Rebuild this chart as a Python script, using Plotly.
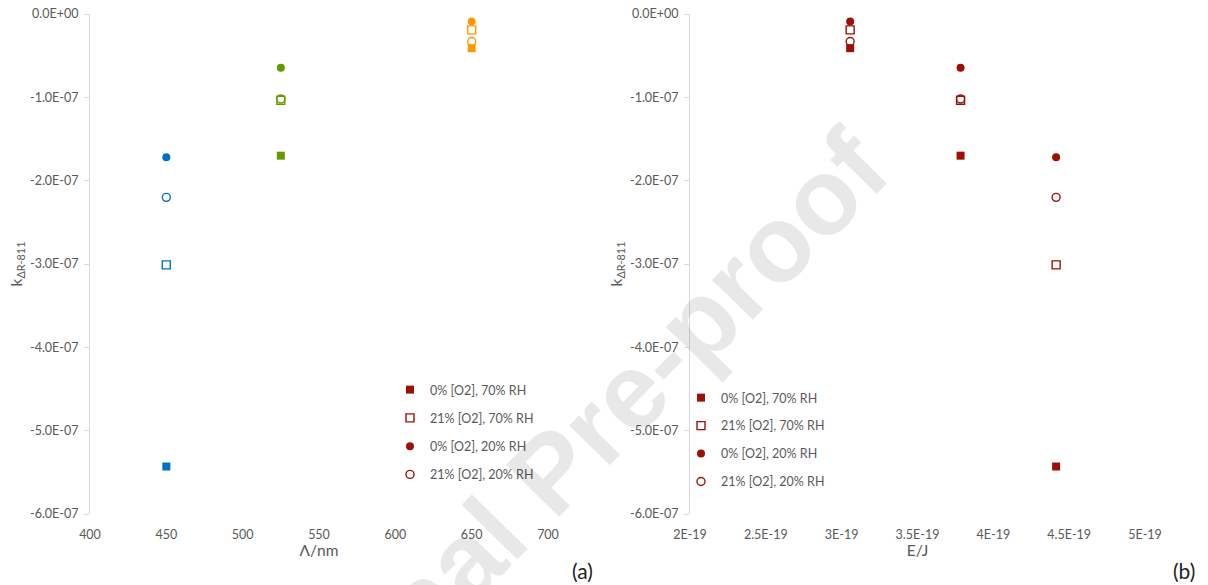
import plotly.graph_objects as go

# ---------------- data ----------------
wavelength_nm = [450, 525, 650]
energy_J = [4.414e-19, 3.784e-19, 3.056e-19]

k_0O2_70RH = [-5.43e-7, -1.70e-7, -0.41e-7]
k_21O2_70RH = [-3.01e-7, -1.035e-7, -0.19e-7]
k_0O2_20RH = [-1.72e-7, -0.645e-7, -0.09e-7]
k_21O2_20RH = [-2.20e-7, -1.02e-7, -0.33e-7]

series_names = ["0% [O2], 70% RH", "21% [O2], 70% RH",
                "0% [O2], 20% RH", "21% [O2], 20% RH"]
series_values = [k_0O2_70RH, k_21O2_70RH, k_0O2_20RH, k_21O2_20RH]
series_symbols = ["square", "square-open", "circle", "circle-open"]

wavelength_colors = ["#0070C0", "#669900", "#FF9900"]
dark_red = "#9C1006"

y_tickvals = [0, -1e-7, -2e-7, -3e-7, -4e-7, -5e-7, -6e-7]
y_ticktext = ["0.0E+00", "-1.0E-07", "-2.0E-07", "-3.0E-07",
              "-4.0E-07", "-5.0E-07", "-6.0E-07"]
xa_tickvals = [400, 450, 500, 550, 600, 650, 700]
xb_tickvals = [2e-19, 2.5e-19, 3e-19, 3.5e-19, 4e-19, 4.5e-19, 5e-19]
xb_ticktext = ["2E-19", "2.5E-19", "3E-19", "3.5E-19", "4E-19", "4.5E-19", "5E-19"]

# ---------------- figure ----------------
W, H = 1208, 585
FONT = "Lato, 'Open Sans', sans-serif"
GREY_TXT = "#595959"
AXIS_C = "#D9D9D9"

fig = go.Figure()

for name, vals, sym in zip(series_names, series_values, series_symbols):
    is_open = sym.endswith("open")
    # panel (a): coloured by wavelength
    fig.add_trace(go.Scatter(
        x=wavelength_nm, y=vals, mode="markers", name=name, showlegend=False,
        marker=dict(symbol=sym, size=8, color=wavelength_colors,
                    line=dict(width=1.4 if is_open else 0, color=wavelength_colors)),
        xaxis="x", yaxis="y"))
    # panel (b): dark red
    fig.add_trace(go.Scatter(
        x=energy_J, y=vals, mode="markers", name=name, showlegend=False,
        marker=dict(symbol=sym, size=8, color=dark_red,
                    line=dict(width=1.4 if is_open else 0, color=dark_red)),
        xaxis="x2", yaxis="y2"))

# legend entries (dark red markers in both panels)
for i, (name, sym) in enumerate(zip(series_names, series_symbols)):
    is_open = sym.endswith("open")
    for lg, xa, ya in (("legend", "x", "y"), ("legend2", "x2", "y2")):
        fig.add_trace(go.Scatter(
            x=[None], y=[None], mode="markers", name=name, legend=lg,
            legendgroup=f"{lg}_{i}",
            marker=dict(symbol=sym, size=8, color=dark_red,
                        line=dict(width=1.4 if is_open else 0, color=dark_red)),
            xaxis=xa, yaxis=ya))

xa_dom = [90 / W, 548 / W]
xb_dom = [690 / W, 1145 / W]
y_dom = [71 / H, 571 / H]

tickfont = dict(family=FONT, size=12.5, color=GREY_TXT)
titlefont = dict(family=FONT, size=15.5, color=GREY_TXT)

def yaxis_cfg(anchor):
    return dict(domain=y_dom, anchor=anchor, range=[-6e-7, 0], automargin=False,
                tickvals=y_tickvals, ticktext=y_ticktext, tickfont=tickfont,
                showline=True, linecolor=AXIS_C, linewidth=1,
                ticks="outside", ticklen=5, tickcolor=AXIS_C,
                ticklabelstandoff=3,
                showgrid=False, zeroline=False,
                title=dict(text="k<sub>ΔR-811</sub>", font=titlefont, standoff=3))

def xaxis_cfg(dom, anchor, rng, tv, tt, title):
    return dict(domain=dom, anchor=anchor, range=rng, automargin=False,
                tickvals=tv, ticktext=tt, tickfont=tickfont,
                showline=False, ticks="", ticklabelstandoff=11,
                showgrid=False, zeroline=False,
                title=dict(text=title, font=titlefont, standoff=0))

def topaxis_cfg(over, anchor, rng, tv):
    return dict(overlaying=over, side="top", anchor=anchor, range=rng,
                automargin=False, tickvals=tv, showticklabels=False,
                showline=True, linecolor=AXIS_C, ticks="outside", ticklen=4,
                tickcolor=AXIS_C, showgrid=False, zeroline=False)

fig.update_layout(
    width=W, height=H, margin=dict(l=0, r=0, t=0, b=0),
    paper_bgcolor="white", plot_bgcolor="white",
    xaxis=xaxis_cfg(xa_dom, "y", [400, 700], xa_tickvals,
                    [str(v) for v in xa_tickvals], "Λ/nm"),
    xaxis3=topaxis_cfg("x", "y", [400, 700], xa_tickvals),
    xaxis2=xaxis_cfg(xb_dom, "y2", [2e-19, 5e-19], xb_tickvals, xb_ticktext, "E/J"),
    xaxis4=topaxis_cfg("x2", "y2", [2e-19, 5e-19], xb_tickvals),
    yaxis=yaxis_cfg("x"),
    yaxis2=yaxis_cfg("x2"),
    legend=dict(x=390 / W, y=1 - 375 / H, xanchor="left", yanchor="top",
                bgcolor="rgba(0,0,0,0)", tracegroupgap=9, itemwidth=30,
                font=dict(family=FONT, size=12.5, color=GREY_TXT)),
    legend2=dict(x=681 / W, y=1 - 383 / H, xanchor="left", yanchor="top",
                 bgcolor="rgba(0,0,0,0)", tracegroupgap=8.7, itemwidth=30,
                 font=dict(family=FONT, size=12.5, color=GREY_TXT)),
    annotations=[
        dict(text="(a)", x=582 / W, y=1 - 570 / H, xref="paper", yref="paper",
             xanchor="center", yanchor="middle",
             showarrow=False, font=dict(family=FONT, size=21, color="#222222")),
        dict(text="(b)", x=1184 / W, y=1 - 570 / H, xref="paper", yref="paper",
             xanchor="center", yanchor="middle",
             showarrow=False, font=dict(family=FONT, size=21, color="#222222")),
        dict(text="<b>Journal Pre-proof</b>", x=550 / W, y=1 - 472 / H,
             xref="paper", yref="paper", xanchor="center", yanchor="middle",
             showarrow=False, textangle=-45.5,
             font=dict(family="Liberation Sans, Arial, sans-serif", size=108,
                       color="rgba(0,0,0,0.09)")),
    ],
    showlegend=True,
)

fig.write_html("out.html", config={"displayModeBar": False},
               post_script="document.body.style.margin='0';")
